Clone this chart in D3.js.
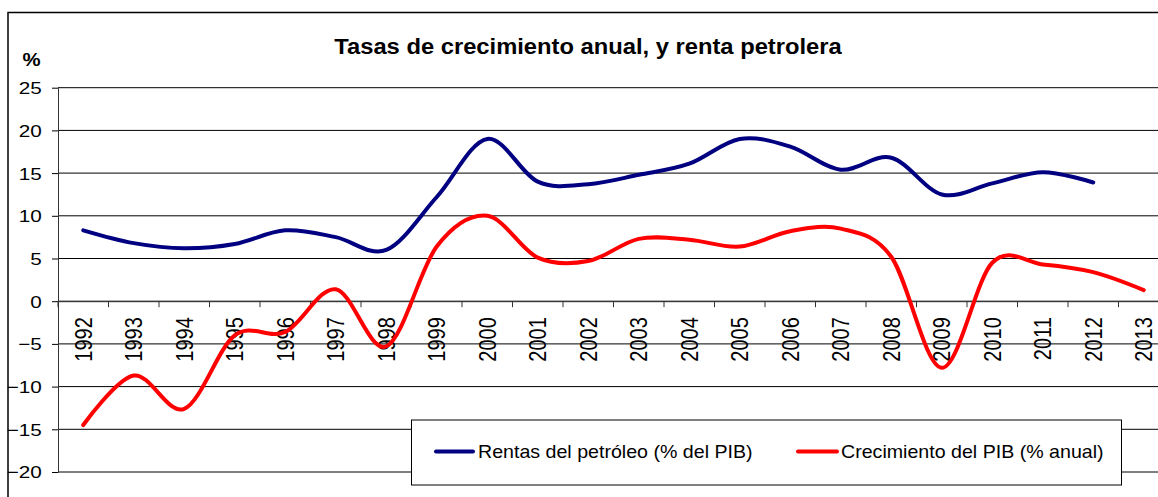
<!DOCTYPE html>
<html>
<head>
<meta charset="utf-8">
<script src="https://d3js.org/d3.v7.min.js"></script>
<style>
  body { margin: 0; background: #fff; }
  text { font-family: Arial, "Liberation Sans", sans-serif; fill: #000; }
</style>
</head>
<body>
<script>
// data
const years = d3.range(1992, 2014).map(String);
const rentas = [8.3, 6.8, 6.2, 6.7, 8.3, 7.5, 6.0, 12.2, 19.0, 14.0, 13.7, 14.8, 16.1, 19.0, 18.1, 15.4, 16.8, 12.5, 13.8, 15.1, 13.9];
const crecimiento = [-14.5, -8.7, -12.6, -4.0, -3.6, 1.4, -5.3, 6.4, 10.0, 5.1, 4.7, 7.3, 7.2, 6.4, 8.2, 8.5, 5.2, -7.8, 4.5, 4.3, 3.4, 1.3];
const yTicks = [-20, -15, -10, -5, 0, 5, 10, 15, 20, 25];
const seriesNames = ["Rentas del petróleo (% del PIB)", "Crecimiento del PIB (% anual)"];

const width = 1158, height = 497;
const plotLeft = 58, plotRight = 1169, plotTop = 87.7, plotBottom = 472;

const svg = d3.select("body").append("svg")
    .attr("width", width)
    .attr("height", height);

svg.append("rect").attr("width", width).attr("height", height).attr("fill", "#fff");

// outer chart frame (runs off the picture at right and bottom)
svg.append("rect")
    .attr("x", 8).attr("y", 12.5)
    .attr("width", 1200).attr("height", 520)
    .attr("fill", "none").attr("stroke", "#000").attr("stroke-width", 1.5);

let xBand = d3.scaleBand().domain(years).range([plotLeft, plotRight]);
let xPt = d3.scalePoint().domain(years).range([plotLeft, plotRight]).padding(0.5);
let y = d3.scaleLinear().domain([-20, 25]).range([plotBottom, plotTop]);

// gridlines
svg.append("g")
    .selectAll("line")
    .data(yTicks)
    .join("line")
        .attr("x1", plotLeft).attr("x2", plotRight)
        .attr("y1", d => y(d)).attr("y2", d => y(d))
        .attr("stroke", "#000").attr("stroke-width", 1);

// y axis
let gy = svg.append("g")
    .attr("transform", `translate(${plotLeft},0)`)
    .call(d3.axisLeft(y).tickValues(yTicks).tickSize(6).tickSizeOuter(0));
gy.select(".domain").attr("stroke", "#333");
gy.selectAll(".tick line").attr("stroke", "#000");
gy.selectAll(".tick text")
    .attr("font-size", 17)
    .attr("font-family", null)
    .attr("x", -13.2)
    .attr("dy", "0.35em")
    .attr("transform", "scale(1.22,1)");
gy.attr("font-family", null).attr("font-size", null);

// x axis along zero
let gx = svg.append("g")
    .attr("transform", `translate(0,${y(0)})`)
    .call(d3.axisBottom(xBand).tickSize(0).tickSizeOuter(0));
gx.select(".domain").attr("stroke", "#333");
gx.selectAll(".tick text").remove();

gx.selectAll("line.bt")
    .data(years.concat(["end"]))
    .join("line")
        .attr("class", "bt")
        .attr("x1", d => d === "end" ? plotRight : xBand(d))
        .attr("x2", d => d === "end" ? plotRight : xBand(d))
        .attr("y1", 0).attr("y2", 6)
        .attr("stroke", "#333");

svg.append("g")
    .selectAll("text")
    .data(years)
    .join("text")
        .attr("transform", d => `translate(${xPt(d)},${y(0) + 16}) scale(1.15,1) rotate(-90)`)
        .attr("text-anchor", "end")
        .attr("dy", "0.36em")
        .attr("font-size", 20)
        .text(d => d);

// lines
let curve = d3.curveCardinal.tension(0);

let line = d3.line()
    .x((d, i) => xPt(years[i]))
    .y(d => y(d))
    .curve(curve);

svg.append("path")
    .datum(crecimiento)
    .attr("d", line)
    .attr("fill", "none")
    .attr("stroke", "#ff0000")
    .attr("stroke-width", 4)
    .attr("stroke-linecap", "round");

svg.append("path")
    .datum(rentas)
    .attr("d", line)
    .attr("fill", "none")
    .attr("stroke", "#000080")
    .attr("stroke-width", 4)
    .attr("stroke-linecap", "round");

// title and unit
svg.append("text")
    .attr("transform", "translate(588,53.5) scale(1.08,1)")
    .attr("text-anchor", "middle")
    .attr("font-size", 22)
    .attr("font-weight", "bold")
    .text("Tasas de crecimiento anual, y renta petrolera");

svg.append("text")
    .attr("transform", "translate(22.5,66) scale(1.13,1)")
    .attr("font-size", 18)
    .attr("font-weight", "bold")
    .text("%");

// legend
let legend = svg.append("g");
legend.append("rect")
    .attr("x", 411.5).attr("y", 420)
    .attr("width", 710).attr("height", 65)
    .attr("fill", "#fff").attr("stroke", "#000").attr("stroke-width", 1);

let legendItems = [
    {name: seriesNames[0], color: "#000080", x0: 436, x1: 473, tx: 478},
    {name: seriesNames[1], color: "#ff0000", x0: 798, x1: 837, tx: 841}
];

legend.selectAll("line.key")
    .data(legendItems)
    .join("line")
        .attr("class", "key")
        .attr("x1", d => d.x0).attr("x2", d => d.x1)
        .attr("y1", 451.5).attr("y2", 451.5)
        .attr("stroke", d => d.color)
        .attr("stroke-width", 4)
        .attr("stroke-linecap", "round");

legend.selectAll("text")
    .data(legendItems)
    .join("text")
        .attr("transform", d => `translate(${d.tx},458) scale(1.09,1)`)
        .attr("font-size", 18)
        .text(d => d.name);
</script>
</body>
</html>
